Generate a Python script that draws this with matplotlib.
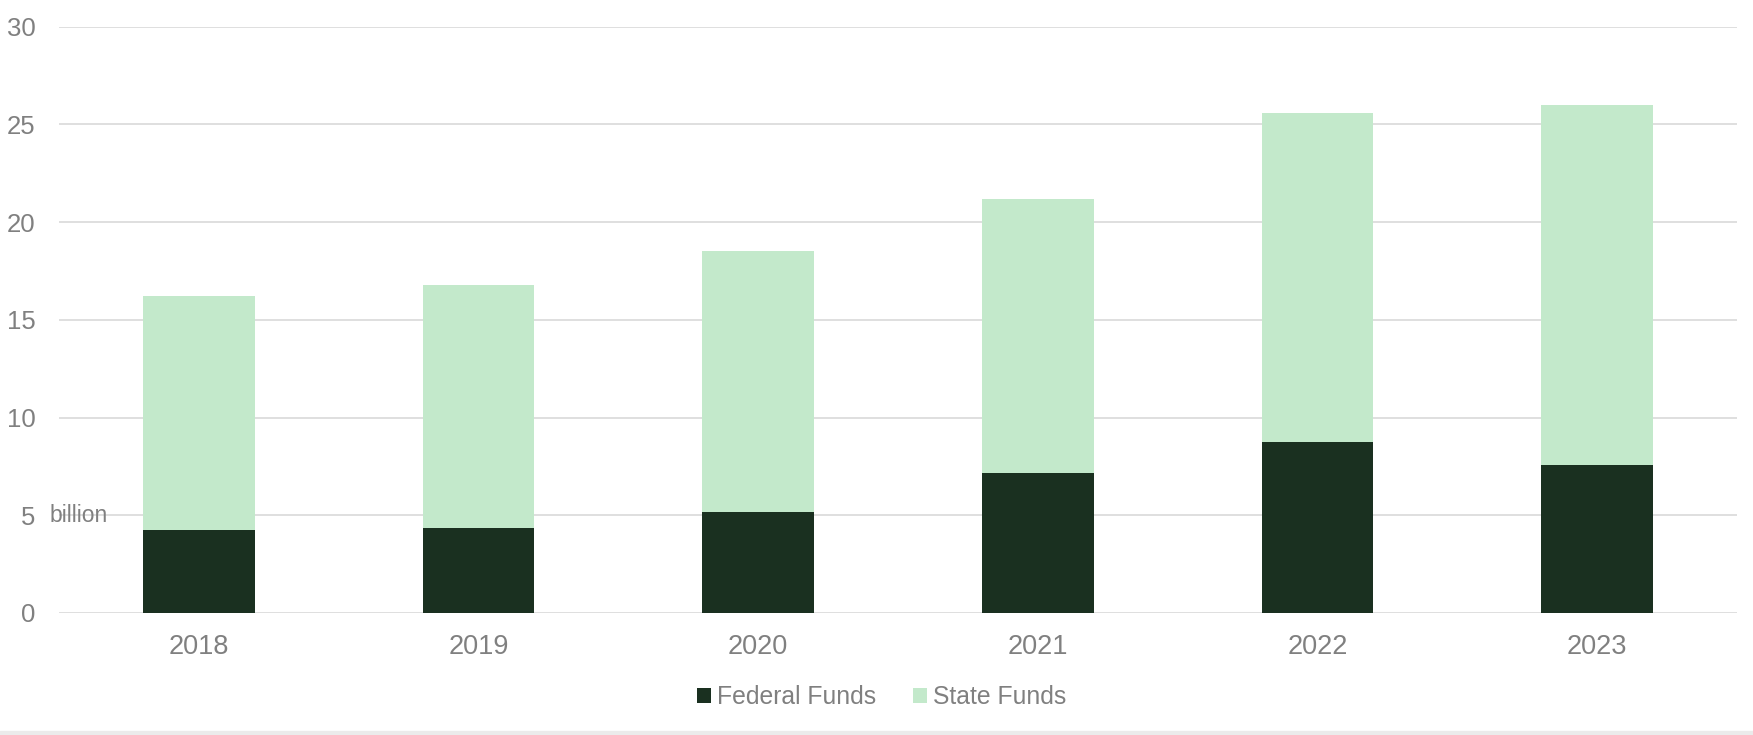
import matplotlib.pyplot as plt
import matplotlib.transforms as mtransforms
from matplotlib.patches import Rectangle

years = ["2018", "2019", "2020", "2021", "2022", "2023"]
federal = [4.25, 4.35, 5.15, 7.15, 8.75, 7.58]
state_total = [16.2, 16.8, 18.5, 21.2, 25.6, 26.0]
state = [t - f for t, f in zip(state_total, federal)]

dark = "#1a3020"
light = "#c3e9cb"
grey = "#808080"

plt.rcParams['font.family'] = ['Liberation Sans', 'DejaVu Sans']

fig = plt.figure(figsize=(17.53, 7.35), dpi=100)
ax = fig.add_axes([59 / 1753, 1 - 613 / 735, (1737 - 59) / 1753, (613 - 26.5) / 735])

x = range(len(years))
ax.bar(x, federal, width=0.4, color=dark, label="Federal Funds", zorder=3)
ax.bar(x, state, width=0.4, bottom=federal, color=light, label="State Funds", zorder=3)

ax.set_xlim(-0.5, 5.5)
ax.set_ylim(0, 30)
ax.set_yticks(range(0, 31, 5))
ax.set_yticklabels([str(v) for v in range(0, 31, 5)], fontsize=18.5)
ax.set_xticks(list(x))
ax.set_xticklabels(years, fontsize=19.5)
ax.tick_params(axis='y', length=0, pad=17, colors=grey)
ax.tick_params(axis='x', length=0, pad=15, colors=grey)
ax.grid(axis='y', color="#dcdcdc", linewidth=1.3, zorder=0)
for s in ax.spines.values():
    s.set_visible(False)

trans = mtransforms.blended_transform_factory(ax.transAxes, ax.transData)
ax.text(-0.0055, 5, "billion", color=grey, fontsize=16.5, transform=trans,
        va='center', ha='left', zorder=4)

leg = fig.legend(loc='center', bbox_to_anchor=(882 / 1753, 1 - 697 / 735), ncol=2,
                 frameon=False, fontsize=17.8, handlelength=0.55, handleheight=0.55,
                 handletextpad=0.25, columnspacing=1.5, labelcolor=grey)

fig.patches.append(Rectangle((0, 0), 1, 4 / 735, transform=fig.transFigure,
                             color="#ebebeb", zorder=0))

fig.savefig("out.png", dpi=100, facecolor="white")
